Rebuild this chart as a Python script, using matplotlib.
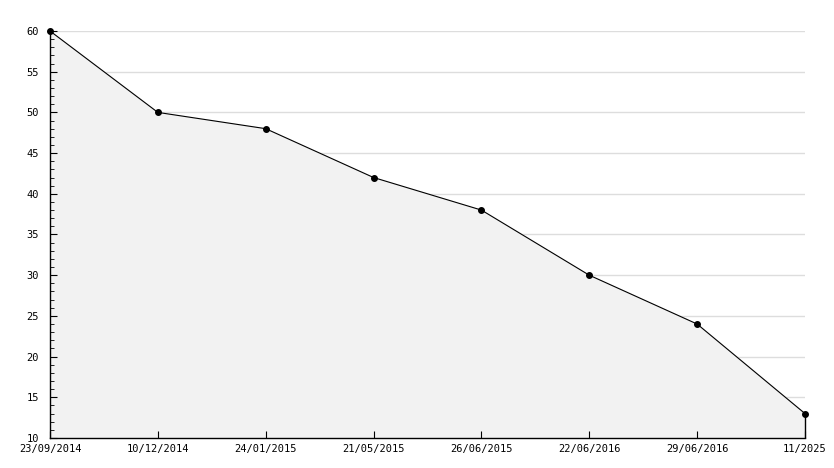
import matplotlib
matplotlib.use('Agg')
import matplotlib.pyplot as plt
from matplotlib.ticker import MultipleLocator

# data
dates = ['23/09/2014', '10/12/2014', '24/01/2015', '21/05/2015',
         '26/06/2015', '22/06/2016', '29/06/2016', '11/2025']
values = [60, 50, 48, 42, 38, 30, 24, 13]

plt.rcParams['font.family'] = 'DejaVu Sans Mono'

fig = plt.figure(figsize=(8.34, 4.68), dpi=100)
W, H = 834, 468
ax = fig.add_axes([50 / W, (H - 438) / H, (805 - 50) / W, (438 - 31) / H])

x = list(range(len(values)))
ax.fill_between(x, values, 10, color='#f2f2f2', zorder=1)
ax.plot(x, values, color='black', linewidth=0.8, zorder=3, clip_on=False,
        marker='o', markersize=4, markerfacecolor='black')
ax.vlines(x[-1], 10, values[-1], color='black', linewidth=1, zorder=3, clip_on=False)

ax.set_xlim(0, len(values) - 1)
ax.set_ylim(10, 60)
ax.set_xticks(x)
ax.set_xticklabels(dates)
ax.yaxis.set_major_locator(MultipleLocator(5))
ax.yaxis.set_minor_locator(MultipleLocator(1))

# grid lines behind the fill, ticks stay on top
for yv in ax.get_yticks():
    if 10 < yv <= 60:
        ax.axhline(yv, color='#dddddd', linewidth=1, zorder=0)

for s in ['top', 'right']:
    ax.spines[s].set_visible(False)
ax.spines['left'].set_linewidth(1)
ax.spines['bottom'].set_linewidth(1)

ax.tick_params(axis='both', which='both', direction='in', labelsize=7.5, colors='black')
ax.tick_params(axis='y', which='major', length=5, pad=8)
ax.tick_params(axis='y', which='minor', length=3)
ax.tick_params(axis='x', length=5, pad=4)

fig.savefig('out.png', dpi=100)
